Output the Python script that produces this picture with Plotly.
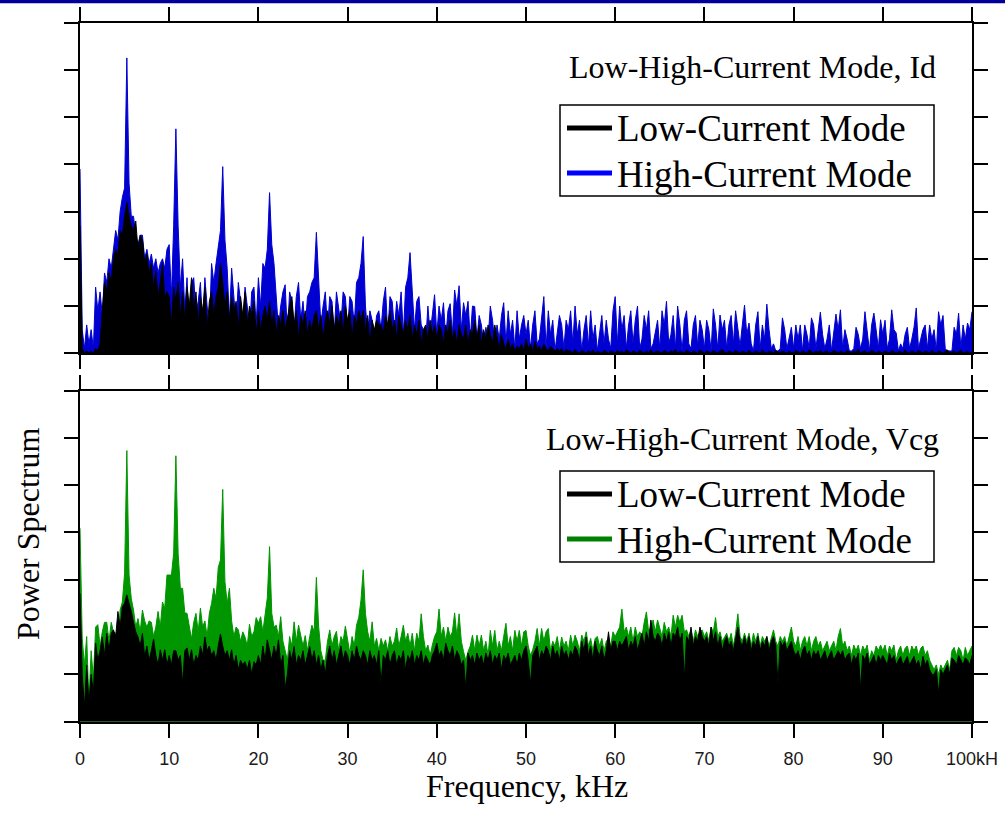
import plotly.graph_objects as go

W, H = 1005, 827

# frequency grid, kHz (0 .. 100 in 0.25 kHz steps)
freq = [i * 0.25 for i in range(401)]

# ---- Top panel (Id): High-Current Mode (blue) ----
id_high = [
    3.9, 0.5, 0.1, 0.6, 0.2, 0.5, 0.1, 1.4, 0.9, 1.3, 0.8, 1.7, 1.5, 2.0, 1.8, 2.2, 2.6, 2.4, 3.0, 3.3,
    3.5, 6.25, 3.6, 2.9, 2.9, 2.5, 2.3, 2.5, 2.5, 2.0, 2.2, 1.9, 2.1, 1.8, 2.0, 1.7, 1.9, 2.0, 1.8, 2.2,
    2.3, 1.2, 2.7, 4.75, 2.7, 1.4, 2.0, 0.9, 1.6, 0.5, 1.5, 1.6, 0.8, 1.1, 1.5, 0.6, 1.6, 1.0, 0.5, 1.9,
    1.5, 1.9, 2.3, 2.6, 3.95, 2.4, 1.8, 0.7, 1.8, 1.2, 0.6, 1.5, 1.1, 0.5, 1.4, 1.0, 0.4, 1.3, 1.4, 0.6,
    1.6, 1.0, 1.9, 1.8, 2.2, 3.4, 2.3, 1.9, 1.2, 0.5, 1.0, 1.3, 1.45, 0.4, 1.3, 1.1, 0.5, 1.2, 1.5, 0.7,
    1.1, 0.5, 1.2, 1.3, 1.5, 1.6, 2.56, 1.5, 0.6, 1.0, 1.3, 0.5, 1.2, 1.1, 0.4, 1.3, 1.0, 0.6, 1.3, 1.2,
    0.5, 1.2, 1.1, 0.6, 1.5, 1.6, 1.9, 2.47, 1.0, 0.4, 0.9, 0.7, 0.3, 0.8, 0.9, 0.5, 1.1, 1.4, 0.4, 1.2,
    1.1, 0.5, 1.1, 0.8, 1.3, 0.4, 1.4, 1.6, 2.13, 1.2, 0.5, 1.1, 1.2, 0.6, 0.5, 0.2, 1.0, 0.4, 0.9, 1.24,
    0.4, 1.0, 0.7, 1.07, 0.3, 0.9, 1.05, 0.4, 1.34, 1.0, 1.43, 0.5, 1.07, 0.8, 1.1, 0.3, 1.0, 0.99, 0.3, 0.8,
    0.6, 0.2, 0.55, 0.3, 1.0, 0.7, 0.2, 0.6, 0.3, 0.8, 1.07, 0.2, 0.9, 0.4, 0.7, 0.1, 0.9, 0.3, 0.6, 0.8,
    0.4, 0.7, 0.1, 0.6, 0.9, 0.2, 0.3, 0.8, 1.2, 0.1, 0.9, 0.4, 0.7, 0.05, 0.5, 0.8, 0.6, 0.1, 0.7, 0.5,
    0.9, 0.2, 1.0, 0.4, 0.7, 0.05, 0.5, 0.8, 0.15, 0.9, 0.3, 0.6, 0.05, 0.4, 0.8, 0.2, 0.7, 0.3, 0.1, 0.9,
    1.2, 0.2, 1.0, 0.5, 0.8, 0.1, 0.6, 0.9, 0.2, 0.7, 1.0, 0.1, 0.3, 0.8, 0.5, 0.9, 0.1, 0.2, 0.5, 0.7,
    0.1, 0.9, 0.6, 1.1, 0.2, 0.4, 0.8, 0.1, 1.0, 0.6, 0.05, 0.7, 0.9, 0.2, 0.1, 0.6, 0.8, 0.15, 0.7, 0.5,
    0.1, 0.7, 0.5, 0.05, 0.94, 0.6, 0.1, 0.81, 0.5, 0.7, 0.1, 0.6, 0.8, 0.2, 0.9, 0.5, 0.15, 0.6, 1.02, 0.4,
    0.64, 0.2, 0.05, 0.6, 0.88, 0.1, 0.6, 0.3, 1.04, 0.5, 0.1, 0.2, 0.05, 0.05, 0.1, 0.75, 0.5, 0.1, 0.3, 0.55,
    0.1, 0.6, 0.3, 0.6, 0.05, 0.6, 0.4, 0.1, 0.75, 0.6, 0.1, 0.5, 0.87, 0.4, 0.1, 0.3, 0.6, 0.05, 0.4, 0.83,
    0.5, 0.92, 0.1, 0.5, 0.3, 0.05, 0.05, 0.1, 0.55, 0.4, 0.1, 0.3, 0.88, 0.5, 0.05, 0.6, 0.85, 0.5, 0.1, 0.71,
    0.4, 0.7, 0.1, 0.3, 0.92, 0.5, 0.43, 0.05, 0.2, 0.1, 0.4, 0.55, 0.1, 0.3, 0.55, 0.96, 0.1, 0.3, 0.5, 0.6,
    0.1, 0.6, 0.3, 0.5, 0.05, 0.88, 0.6, 0.8, 0.1, 0.05, 0.05, 0.05, 0.55, 0.4, 0.85, 0.1, 0.6, 0.3, 0.64, 0.5,
    0.88,
]

# ---- Top panel (Id): Low-Current Mode (black) ----
id_low = [
    2.7, 0.1, 0.0, 0.05, 0.0, 0.05, 0.0, 0.1, 0.05, 0.2, 0.9, 1.5, 1.3, 1.7, 1.5, 2.0, 2.2, 2.1, 2.6, 2.5,
    2.9, 3.2, 2.9, 2.7, 2.6, 2.8, 2.2, 2.5, 2.4, 1.9, 2.1, 1.7, 1.9, 1.4, 1.75, 1.2, 1.5, 1.9, 1.2, 1.3,
    1.2, 0.6, 1.4, 1.1, 1.5, 0.8, 1.3, 0.7, 1.4, 1.0, 1.6, 0.9, 1.3, 0.6, 1.2, 0.9, 1.4, 0.5, 1.1, 1.3,
    0.8, 1.2, 1.4, 1.9, 1.5, 1.0, 1.3, 0.7, 1.2, 0.9, 1.1, 0.5, 1.2, 0.8, 1.3, 0.6, 1.0, 0.8, 1.1, 0.4,
    0.9, 0.5, 0.8, 1.0, 0.7, 1.1, 0.6, 0.9, 0.4, 0.8, 0.6, 0.9, 0.5, 0.8, 1.0, 1.2, 0.6, 0.9, 0.3, 0.8,
    0.6, 0.9, 0.4, 0.7, 0.5, 0.8, 0.9, 0.5, 0.8, 0.3, 0.7, 0.9, 0.6, 1.0, 0.5, 0.8, 0.6, 0.9, 0.4, 1.0,
    0.7, 0.9, 0.3, 0.8, 0.6, 0.9, 0.7, 0.9, 0.5, 0.8, 0.2, 0.7, 0.5, 0.7, 0.6, 0.6, 0.4, 0.8, 0.6, 0.9,
    0.5, 0.7, 0.3, 0.8, 0.6, 0.4, 0.7, 0.5, 0.8, 0.3, 0.6, 0.4, 0.7, 0.2, 0.5, 0.6, 0.3, 0.7, 0.4, 0.6,
    0.3, 0.6, 0.5, 0.2, 0.6, 0.4, 0.7, 0.3, 0.5, 0.2, 0.6, 0.4, 0.3, 0.6, 0.2, 0.5, 0.4, 0.7, 0.3, 0.6,
    0.2, 0.5, 0.3, 0.6, 0.4, 0.2, 0.6, 0.3, 0.1, 0.4, 0.2, 0.1, 0.3, 0.1, 0.2, 0.05, 0.15, 0.1, 0.2, 0.05,
    0.3, 0.1, 0.2, 0.05, 0.25, 0.1, 0.15, 0.05, 0.2, 0.1, 0.05, 0.15, 0.1, 0.05, 0.1, 0.05, 0.1, 0.0, 0.08, 0.05,
    0.05, 0.0, 0.08, 0.02, 0.0, 0.06, 0.03, 0.0, 0.05, 0.02, 0.07, 0.0, 0.04, 0.02, 0.0, 0.06, 0.03, 0.0, 0.05, 0.02,
    0.0, 0.06, 0.02, 0.04, 0.0, 0.07, 0.03, 0.0, 0.05, 0.02, 0.0, 0.06, 0.03, 0.0, 0.04, 0.02, 0.07, 0.0, 0.03, 0.05,
    0.02, 0.0, 0.06, 0.03, 0.0, 0.05, 0.02, 0.08, 0.0, 0.04, 0.02, 0.0, 0.06, 0.03, 0.0, 0.05, 0.02, 0.0, 0.07, 0.03,
    0.0, 0.05, 0.02, 0.0, 0.06, 0.03, 0.0, 0.04, 0.08, 0.02, 0.0, 0.05, 0.03, 0.0, 0.06, 0.02, 0.0, 0.04, 0.03, 0.0,
    0.06, 0.02, 0.0, 0.05, 0.03, 0.0, 0.07, 0.02, 0.0, 0.04, 0.03, 0.0, 0.06, 0.02, 0.0, 0.05, 0.03, 0.0, 0.04, 0.02,
    0.0, 0.06, 0.03, 0.0, 0.05, 0.02, 0.0, 0.07, 0.03, 0.0, 0.04, 0.02, 0.06, 0.0, 0.03, 0.05, 0.0, 0.02, 0.06, 0.03,
    0.0, 0.04, 0.02, 0.0, 0.06, 0.03, 0.0, 0.05, 0.02, 0.08, 0.0, 0.03, 0.05, 0.0, 0.02, 0.06, 0.03, 0.0, 0.04, 0.02,
    0.0, 0.05, 0.03, 0.0, 0.06, 0.02, 0.0, 0.04, 0.03, 0.0, 0.07, 0.02, 0.0, 0.05, 0.03, 0.0, 0.06, 0.02, 0.0, 0.04,
    0.03, 0.0, 0.06, 0.02, 0.0, 0.05, 0.03, 0.0, 0.04, 0.07, 0.0, 0.02, 0.05, 0.0, 0.03, 0.06, 0.0, 0.02, 0.04, 0.0,
    0.03,
]

# ---- Bottom panel (Vcg): High-Current Mode (green) ----
vcg_high = [
    4.09, 1.75, 1.2, 1.8, 0.4, 1.5, 0.9, 2.0, 2.05, 1.6, 1.9, 2.1, 2.1, 1.7, 2.1, 1.9, 1.87, 1.6, 2.36, 2.53,
    3.14, 5.73, 3.1, 2.6, 2.36, 2.0, 2.18, 1.9, 2.36, 2.13, 2.0, 2.13, 2.1, 1.8, 2.0, 2.33, 2.0, 2.53, 2.4, 3.1,
    3.1, 3.1, 3.56, 5.62, 3.56, 2.82, 2.82, 2.3, 2.29, 2.0, 1.75, 2.1, 2.29, 1.9, 2.4, 2.0, 2.13, 1.8, 2.29, 2.5,
    2.82, 2.6, 3.26, 3.42, 4.91, 2.96, 2.5, 2.82, 2.13, 1.8, 2.0, 1.94, 1.7, 1.9, 1.79, 1.6, 2.06, 1.8, 1.9, 2.2,
    2.08, 2.22, 1.9, 2.26, 2.62, 3.70, 2.29, 2.0, 2.04, 1.8, 2.22, 1.7, 1.5, 1.3, 1.8, 1.6, 2.11, 1.7, 2.04, 1.82,
    1.6, 1.82, 1.5, 1.8, 2.04, 1.9, 3.05, 2.02, 1.5, 1.3, 1.3, 1.7, 1.94, 1.6, 1.8, 1.91, 1.5, 1.8, 1.7, 2.02,
    1.7, 1.45, 1.8, 1.6, 2.04, 2.2, 2.57, 3.21, 2.29, 1.9, 1.7, 2.11, 1.6, 1.76, 1.5, 1.76, 1.6, 1.73, 1.5, 1.8,
    1.6, 1.7, 1.98, 1.6, 1.8, 2.04, 1.7, 1.87, 1.6, 1.87, 1.5, 1.87, 1.7, 2.28, 1.8, 1.5, 1.62, 1.4, 1.62, 1.8,
    1.9, 2.38, 1.8, 2.0, 1.7, 2.0, 1.8, 1.9, 2.3, 1.8, 2.28, 1.7, 1.48, 1.3, 1.48, 1.6, 1.83, 1.5, 1.83, 1.6,
    1.83, 1.5, 1.7, 1.4, 1.93, 1.6, 1.93, 1.5, 1.7, 1.5, 1.8, 2.08, 1.6, 1.8, 1.5, 1.93, 1.7, 1.93, 1.6, 1.9,
    1.93, 1.6, 1.4, 1.52, 1.7, 1.97, 1.6, 1.97, 1.7, 1.9, 1.97, 1.5, 1.7, 1.6, 1.8, 1.5, 1.79, 1.6, 1.7, 1.5,
    1.83, 1.6, 1.83, 1.7, 1.5, 1.83, 1.7, 1.9, 1.6, 1.76, 1.5, 1.76, 1.8, 1.6, 1.76, 1.5, 1.7, 1.76, 1.6, 1.9,
    1.8, 1.9, 2.0, 2.38, 1.9, 2.0, 1.8, 2.0, 1.7, 2.0, 1.8, 1.9, 1.8, 2.1, 2.32, 1.9, 2.0, 2.15, 1.9, 2.15,
    2.0, 1.8, 2.1, 1.9, 2.0, 1.8, 2.25, 2.0, 2.25, 2.1, 2.25, 1.9, 1.94, 1.8, 1.94, 1.7, 1.94, 1.8, 1.9, 1.94,
    1.8, 1.9, 1.7, 2.0, 1.9, 2.2, 1.8, 1.9, 1.7, 1.8, 1.87, 1.7, 1.87, 1.6, 1.87, 2.28, 1.8, 1.7, 1.87, 1.7,
    1.87, 1.6, 1.87, 1.7, 1.87, 1.6, 1.8, 1.7, 1.8, 1.6, 1.8, 1.94, 1.7, 1.6, 1.8, 1.7, 1.8, 1.6, 1.8, 2.0,
    1.7, 1.6, 1.8, 1.5, 1.7, 1.8, 1.6, 1.8, 1.5, 1.7, 1.8, 1.6, 1.7, 1.5, 1.6, 1.7, 1.5, 1.6, 1.7, 1.5,
    1.8, 1.97, 1.6, 1.7, 1.5, 1.6, 1.4, 1.62, 1.5, 1.62, 1.4, 1.6, 1.5, 1.62, 1.3, 1.5, 1.4, 1.6, 1.5, 1.62,
    1.5, 1.62, 1.4, 1.6, 1.5, 1.62, 1.3, 1.5, 1.6, 1.4, 1.55, 1.6, 1.4, 1.6, 1.5, 1.6, 1.4, 1.55, 1.6, 1.4,
    1.5, 1.3, 1.2, 1.1, 1.2, 1.0, 1.2, 1.1, 1.2, 1.3, 1.1, 1.5, 1.57, 1.4, 1.57, 1.5, 1.3, 1.57, 1.4, 1.5,
    1.6,
]

# ---- Bottom panel (Vcg): Low-Current Mode (black) ----
vcg_low = [
    2.71, 1.0, 0.3, 1.2, 0.4, 1.0, 0.6, 1.66, 1.3, 1.5, 1.79, 1.4, 1.87, 1.5, 1.87, 1.94, 1.8, 2.33, 2.0, 2.43,
    2.5, 2.68, 2.5, 2.33, 2.1, 1.9, 1.79, 1.6, 1.87, 1.37, 1.6, 1.3, 1.5, 1.75, 1.4, 1.2, 1.52, 1.3, 1.52, 1.2,
    1.4, 1.2, 1.5, 1.5, 1.3, 1.4, 0.8, 1.5, 1.56, 1.3, 1.52, 1.2, 1.4, 1.3, 1.6, 1.4, 1.79, 1.5, 1.6, 1.4,
    1.5, 1.3, 1.6, 1.85, 1.6, 1.4, 1.5, 1.3, 1.52, 1.2, 1.4, 1.1, 1.3, 1.2, 1.27, 1.1, 1.3, 1.0, 1.27, 1.2,
    1.4, 1.2, 1.6, 1.3, 1.73, 1.5, 1.3, 1.6, 1.4, 1.73, 1.2, 1.4, 0.7, 1.0, 1.5, 1.3, 1.59, 1.2, 1.4, 1.3,
    1.5, 1.2, 1.4, 1.59, 1.3, 1.5, 1.2, 1.4, 1.1, 1.3, 1.0, 1.4, 1.6, 1.3, 1.5, 1.2, 1.4, 1.6, 1.3, 1.5,
    1.4, 1.2, 1.5, 1.3, 1.6, 1.4, 1.3, 1.5, 1.4, 1.2, 1.5, 1.3, 1.4, 1.2, 1.5, 0.8, 1.4, 1.3, 1.5, 1.2,
    1.4, 1.5, 1.2, 1.4, 1.3, 1.5, 1.1, 1.4, 1.3, 1.5, 1.2, 1.4, 1.3, 1.5, 1.2, 1.4, 1.3, 1.2, 1.4, 1.5,
    1.66, 1.4, 1.5, 1.3, 1.66, 1.5, 1.4, 1.6, 1.3, 1.5, 1.4, 1.2, 1.3, 0.7, 1.45, 1.3, 1.4, 1.2, 1.45, 1.3,
    1.4, 1.2, 1.45, 1.3, 1.5, 1.2, 1.4, 1.3, 1.45, 1.1, 1.4, 1.3, 1.45, 1.2, 1.3, 1.4, 1.2, 1.45, 1.3, 1.5,
    1.6, 1.3, 0.8, 1.4, 1.5, 1.6, 1.3, 1.5, 1.4, 1.6, 1.5, 1.3, 1.6, 1.4, 1.5, 1.3, 1.6, 1.4, 1.5, 1.3,
    1.5, 1.4, 1.6, 1.5, 1.3, 1.7, 1.5, 1.79, 1.4, 1.6, 1.3, 1.7, 1.5, 1.4, 1.6, 1.3, 1.5, 1.9, 1.5, 1.7,
    1.7, 1.5, 1.7, 1.6, 1.7, 1.8, 1.5, 1.7, 1.6, 1.8, 1.5, 1.7, 1.87, 1.6, 1.9, 1.7, 2.15, 1.8, 1.7, 1.87,
    1.8, 1.6, 1.87, 1.7, 1.9, 1.6, 1.87, 1.8, 2.0, 1.7, 1.87, 0.9, 1.8, 1.7, 2.0, 1.6, 1.8, 1.7, 2.0, 1.8,
    1.7, 1.8, 1.6, 2.0, 1.7, 1.9, 1.6, 1.8, 1.5, 1.7, 1.8, 1.6, 1.7, 1.5, 1.8, 2.0, 1.7, 1.6, 1.8, 1.6,
    1.8, 1.5, 1.7, 1.6, 1.8, 1.5, 1.7, 1.6, 1.8, 1.5, 1.7, 1.8, 1.6, 0.8, 1.7, 1.6, 1.7, 1.5, 1.6, 1.7,
    1.5, 1.4, 1.5, 1.3, 1.5, 1.6, 1.4, 1.5, 1.3, 1.5, 1.4, 1.5, 1.3, 1.4, 1.5, 1.3, 1.4, 1.5, 1.3, 1.4,
    1.5, 1.4, 1.5, 1.3, 1.4, 1.45, 1.2, 1.4, 1.3, 1.45, 0.7, 1.4, 1.3, 1.45, 1.2, 1.3, 1.4, 1.2, 1.4, 1.3,
    1.4, 1.3, 1.2, 1.45, 1.3, 1.4, 1.2, 1.3, 1.38, 1.2, 1.3, 1.38, 1.2, 1.3, 1.38, 1.2, 1.3, 1.1, 1.38, 1.2,
    1.3, 1.1, 1.0, 1.0, 1.1, 0.6, 1.1, 1.0, 1.1, 1.2, 1.0, 1.35, 1.3, 1.2, 1.4, 1.3, 1.2, 1.35, 1.3, 1.2,
    1.4,
]

for name, arr in [("id_high", id_high), ("id_low", id_low), ("vcg_high", vcg_high), ("vcg_low", vcg_low)]:
    assert len(arr) == len(freq), (name, len(arr))

x_tickvals = [0, 10, 20, 30, 40, 50, 60, 70, 80, 90, 100]
x_ticktext = ["0", "10", "20", "30", "40", "50", "60", "70", "80", "90", "100kH"]
y_tickvals = [0, 1, 2, 3, 4, 5, 6, 7]

series_names = ["Low-Current Mode", "High-Current Mode"]
panel_titles = ["Low-High-Current Mode, Id", "Low-High-Current Mode, Vcg"]

BLUE = "#0000d0"
GREEN = "#009600"
BLACK = "#000000"
SERIF = "Liberation Serif, Times New Roman, serif"
SANS = "Liberation Sans, Arial, sans-serif"


def py(px):
    return 1 - px / H


def pxx(px):
    return px / W


fig = go.Figure()

# top panel data (high-current underneath, low-current on top)
fig.add_trace(go.Scatter(x=freq, y=id_high, xaxis="x", yaxis="y", mode="lines",
                         name=series_names[1], line=dict(color=BLUE, width=1),
                         fill="tozeroy", fillcolor=BLUE, showlegend=False, hoverinfo="skip"))
fig.add_trace(go.Scatter(x=freq, y=id_low, xaxis="x", yaxis="y", mode="lines",
                         name=series_names[0], line=dict(color=BLACK, width=1),
                         fill="tozeroy", fillcolor=BLACK, showlegend=False, hoverinfo="skip"))
# bottom panel data
fig.add_trace(go.Scatter(x=freq, y=vcg_high, xaxis="x2", yaxis="y2", mode="lines",
                         name=series_names[1], line=dict(color=GREEN, width=1),
                         fill="tozeroy", fillcolor=GREEN, showlegend=False, hoverinfo="skip"))
fig.add_trace(go.Scatter(x=freq, y=vcg_low, xaxis="x2", yaxis="y2", mode="lines",
                         name=series_names[0], line=dict(color=BLACK, width=1),
                         fill="tozeroy", fillcolor=BLACK, showlegend=False, hoverinfo="skip"))

xdom = [pxx(80), pxx(972)]
axis_common = dict(showline=True, linecolor="black", linewidth=2, mirror="ticks",
                   ticks="outside", ticklen=14, tickwidth=2, tickcolor="black",
                   showgrid=False, zeroline=False, fixedrange=True, automargin=False)

shapes = [dict(type="rect", xref="paper", yref="paper", x0=0, x1=1, y0=py(3.3), y1=1,
               fillcolor="#000099", line=dict(width=0), layer="above")]
annotations = [
    dict(text=panel_titles[0], xref="paper", yref="paper", x=pxx(938), y=py(67),
         xanchor="right", yanchor="middle", showarrow=False,
         font=dict(family=SERIF, size=32, color="black")),
    dict(text=panel_titles[1], xref="paper", yref="paper", x=pxx(941), y=py(439),
         xanchor="right", yanchor="middle", showarrow=False,
         font=dict(family=SERIF, size=32, color="black")),
    dict(text="Power Spectrum", xref="paper", yref="paper", x=pxx(28), y=py(534),
         xanchor="center", yanchor="middle", textangle=-90, showarrow=False,
         font=dict(family=SERIF, size=32, color="black")),
    dict(text="Frequency, kHz", xref="paper", yref="paper", x=pxx(527), y=py(786),
         xanchor="center", yanchor="middle", showarrow=False,
         font=dict(family=SERIF, size=32, color="black")),
]

# hand-placed legend boxes (one per panel)
legend_specs = [
    (105, 196, ["#000000", "#0000ff"]),
    (471, 562, ["#000000", "#008000"]),
]
for top, bottom, colors in legend_specs:
    shapes.append(dict(type="rect", xref="paper", yref="paper",
                       x0=pxx(560), x1=pxx(934), y0=py(bottom), y1=py(top),
                       fillcolor="white", line=dict(color="black", width=1.5), layer="above"))
    for k, (label, col) in enumerate(zip(series_names, colors)):
        row_y = top + 23 + 45 * k
        shapes.append(dict(type="line", xref="paper", yref="paper",
                           x0=pxx(567), x1=pxx(612), y0=py(row_y), y1=py(row_y),
                           line=dict(color=col, width=5), layer="above"))
        annotations.append(dict(text=label, xref="paper", yref="paper",
                                x=pxx(615), y=py(row_y + 1), xanchor="left", yanchor="middle",
                                showarrow=False,
                                font=dict(family=SERIF, size=37, color="black")))

fig.update_layout(
    width=W, height=H,
    margin=dict(l=0, r=0, t=0, b=0, autoexpand=False),
    paper_bgcolor="white", plot_bgcolor="white",
    showlegend=False,
    xaxis=dict(domain=xdom, anchor="y", range=[0, 100], tickvals=x_tickvals,
               showticklabels=False, **axis_common),
    yaxis=dict(domain=[py(353.3), py(22.5)], anchor="x", range=[0, 7], tickvals=y_tickvals,
               showticklabels=False, **axis_common),
    xaxis2=dict(domain=xdom, anchor="y2", range=[0, 100], tickvals=x_tickvals,
                ticktext=x_ticktext, showticklabels=True,
                tickfont=dict(family=SANS, size=18, color="#1a1a1a"),
                ticklabelstandoff=6, **axis_common),
    yaxis2=dict(domain=[py(721.7), py(390.5)], anchor="x2", range=[0, 7], tickvals=y_tickvals,
                showticklabels=False, **axis_common),
    shapes=shapes,
    annotations=annotations,
)

fig.write_html("out.html")
